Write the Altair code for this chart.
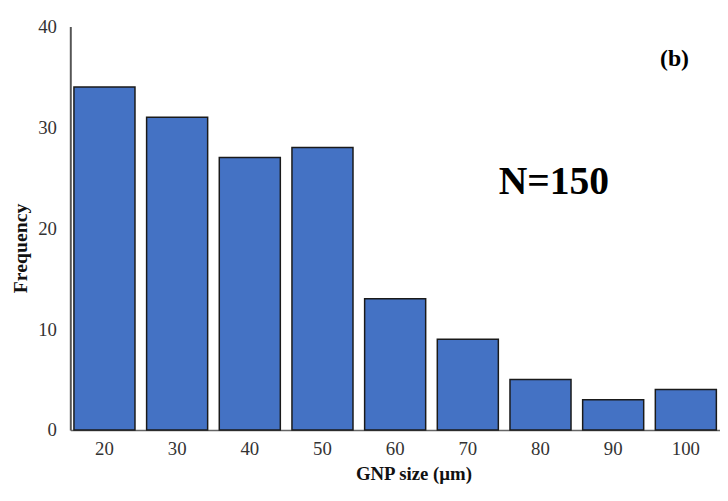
import altair as alt
import pandas as pd

sizes = [20, 30, 40, 50, 60, 70, 80, 90, 100]
freqs = [34, 31, 27, 28, 13, 9, 5, 3, 4]
y_ticks = [0, 10, 20, 30, 40]
n_label = ["N=150"]
panel_label = ["(b)"]

df = pd.DataFrame({"size": sizes, "freq": freqs})
FONT = "Liberation Serif"

bars = alt.Chart(df).mark_bar(
    color="#4472C4", stroke="#1a1a1a", strokeWidth=1.5
).encode(
    x=alt.X("size:O",
            scale=alt.Scale(paddingInner=0.16, paddingOuter=0.05),
            axis=alt.Axis(title="GNP size (µm)", labelAngle=0, ticks=False,
                          labelPadding=10, labelFontSize=19, labelFont=FONT,
                          labelColor="#333333", domainColor="#666666",
                          domainWidth=1.5, titleFont=FONT, titleFontSize=19,
                          titleFontWeight="bold", titleColor="#111111",
                          titleX=347, titleY=44, titleAlign="center",
                          titleBaseline="middle")),
    y=alt.Y("freq:Q",
            scale=alt.Scale(domain=[0, 40], nice=False),
            axis=alt.Axis(title="Frequency", values=y_ticks, grid=False,
                          ticks=False, labelPadding=14, labelFontSize=19,
                          labelFont=FONT, labelColor="#333333",
                          domainColor="#555555", domainWidth=2,
                          titleFont=FONT, titleFontSize=20,
                          titleFontWeight="bold", titleColor="#111111",
                          titleX=-50, titleY=224, titleAlign="center",
                          titleBaseline="middle", titleAngle=-90)),
)

ntext = alt.Chart(pd.DataFrame({"t": n_label})).mark_text(
    font=FONT, fontSize=40, fontWeight="bold", color="#000000",
    align="center", baseline="middle"
).encode(text="t:N", x=alt.value(489), y=alt.value(157))

btext = alt.Chart(pd.DataFrame({"t": panel_label})).mark_text(
    font=FONT, fontSize=24, fontWeight="bold", color="#000000",
    align="center", baseline="middle"
).encode(text="t:N", x=alt.value(611), y=alt.value(33))

chart = alt.layer(bars, ntext, btext).properties(
    width=657, height=408,
    autosize=alt.AutoSizeParams(type="none"),
    padding={"left": 63, "top": 16, "right": 0, "bottom": 54},
    background="white",
).configure_view(stroke=None)

chart.save("out.html", embed_options={"renderer": "svg", "actions": False})
